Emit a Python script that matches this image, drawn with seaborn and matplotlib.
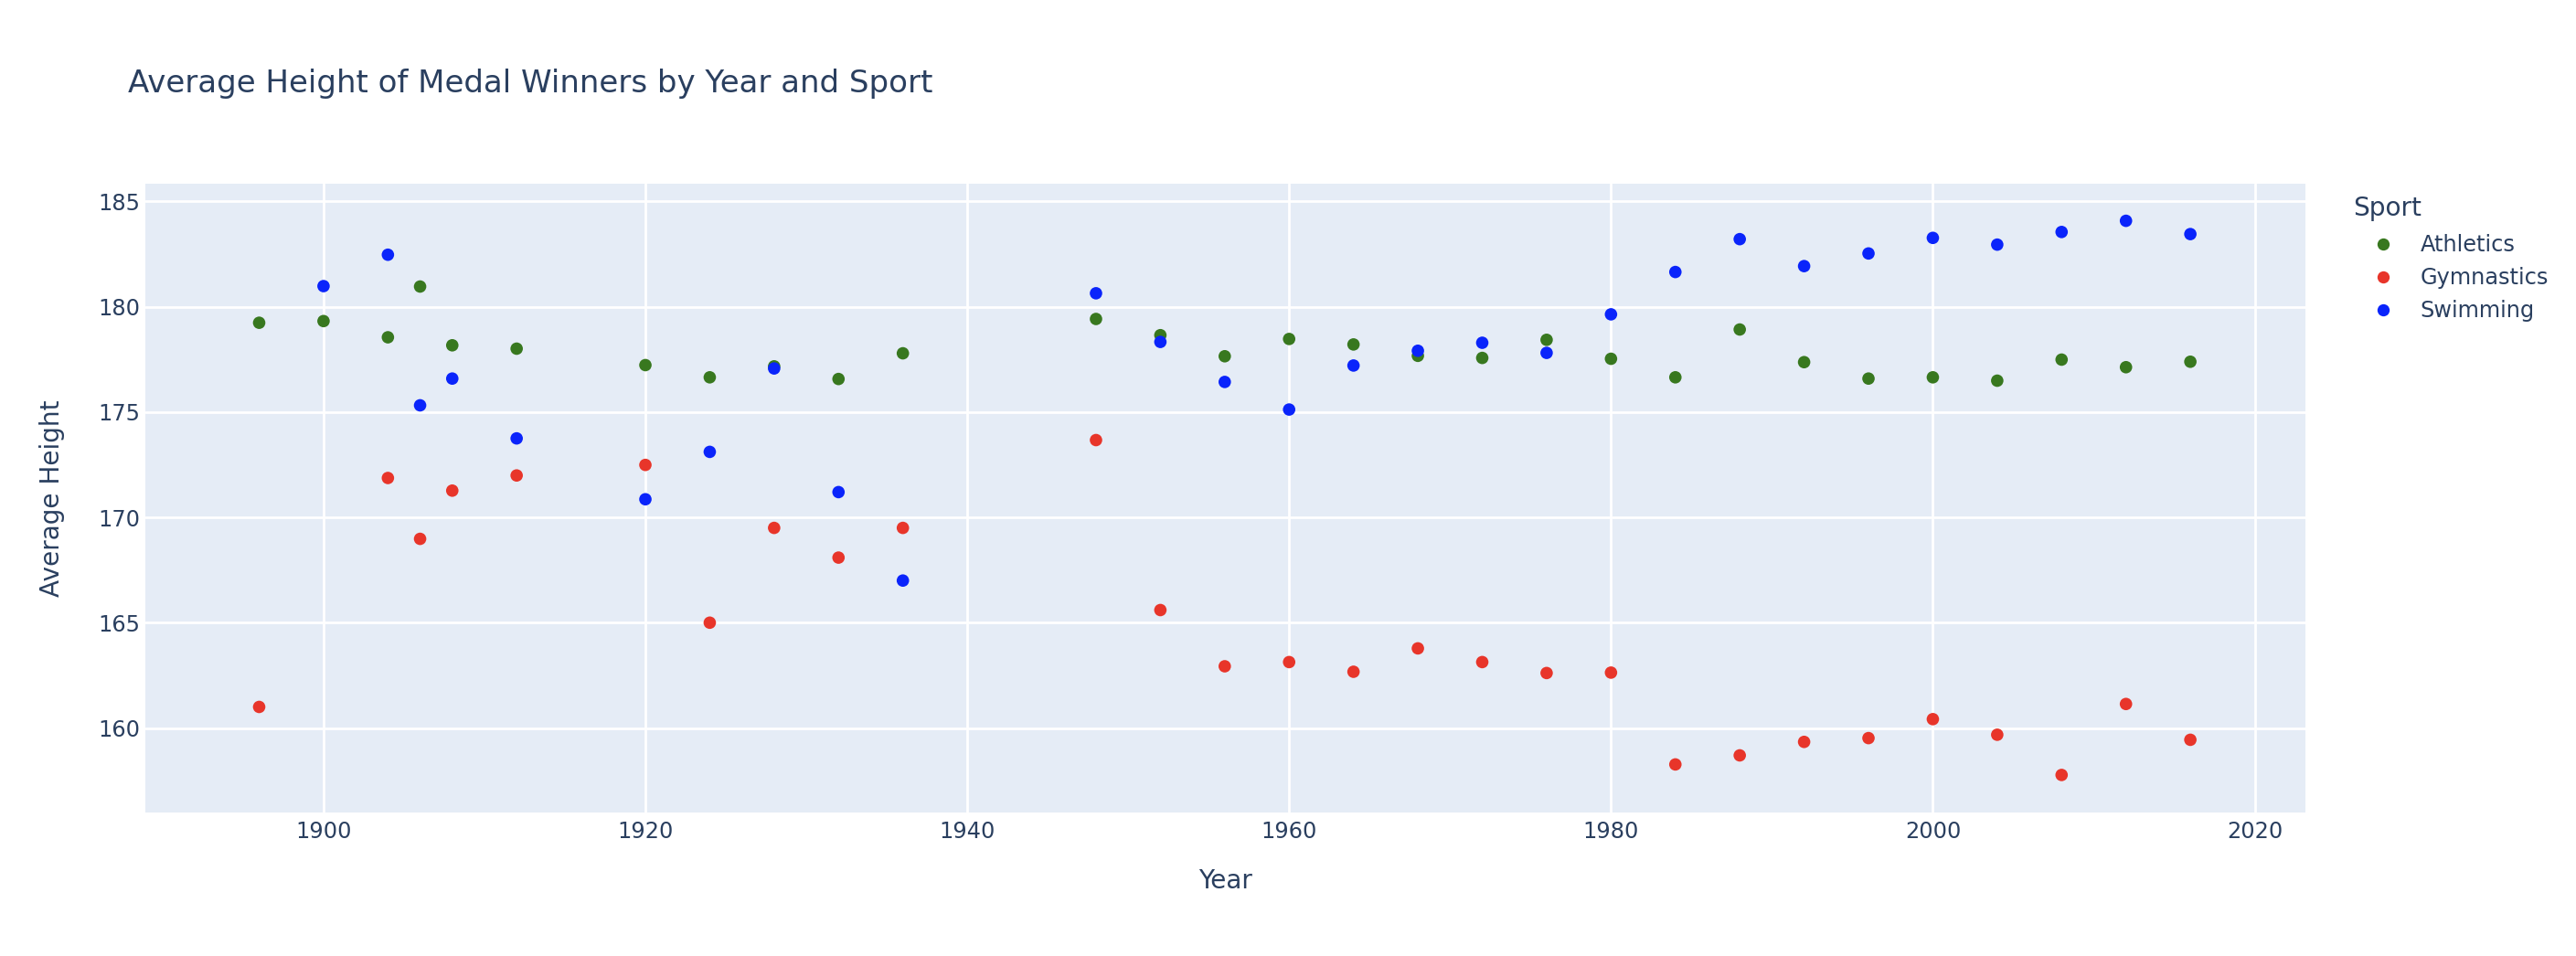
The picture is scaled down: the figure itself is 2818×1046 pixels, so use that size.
import numpy as np
import pandas as pd
import matplotlib
matplotlib.use("Agg")
import matplotlib.pyplot as plt
import seaborn as sns
from matplotlib.lines import Line2D

years = [1896, 1900, 1904, 1906, 1908, 1912, 1920, 1924, 1928, 1932, 1936,
         1948, 1952, 1956, 1960, 1964, 1968, 1972, 1976, 1980, 1984, 1988,
         1992, 1996, 2000, 2004, 2008, 2012, 2016]

athletics = [179.24, 179.32, 178.55, 180.96, 178.17, 178.01, 177.23, 176.65,
             177.17, 176.57, 177.79, 179.42, 178.65, 177.65, 178.47, 178.21,
             177.67, 177.57, 178.43, 177.53, 176.65, 178.92, 177.37, 176.59,
             176.65, 176.49, 177.49, 177.13, 177.39]

gym_years = [1896, 1904, 1906, 1908, 1912, 1920, 1924, 1928, 1932, 1936,
             1948, 1952, 1956, 1960, 1964, 1968, 1972, 1976, 1980, 1984,
             1988, 1992, 1996, 2000, 2004, 2008, 2012, 2016]
gymnastics = [161.0, 171.87, 168.98, 171.27, 171.99, 172.49, 165.0, 169.5,
              168.09, 169.5, 173.67, 165.6, 162.93, 163.13, 162.67, 163.78,
              163.13, 162.61, 162.63, 158.27, 158.7, 159.34, 159.52, 160.42,
              159.68, 157.77, 161.14, 159.44]

swim_years = [1900, 1904, 1906, 1908, 1912, 1920, 1924, 1928, 1932, 1936,
              1948, 1952, 1956, 1960, 1964, 1968, 1972, 1976, 1980, 1984,
              1988, 1992, 1996, 2000, 2004, 2008, 2012, 2016]
swimming = [180.98, 182.47, 175.32, 176.59, 173.75, 170.86, 173.11, 177.07,
            171.2, 167.0, 180.64, 178.33, 176.43, 175.12, 177.21, 177.91,
            178.29, 177.81, 179.64, 181.65, 183.21, 181.93, 182.53, 183.27,
            182.95, 183.55, 184.08, 183.45]

sports = ["Athletics", "Gymnastics", "Swimming"]
colors = ["#38781f", "#e8352a", "#0a24fb"]

df = pd.concat([
    pd.DataFrame({"Year": years, "Average Height": athletics, "Sport": "Athletics"}),
    pd.DataFrame({"Year": gym_years, "Average Height": gymnastics, "Sport": "Gymnastics"}),
    pd.DataFrame({"Year": swim_years, "Average Height": swimming, "Sport": "Swimming"}),
], ignore_index=True)

sns.set_theme(style="darkgrid")
plt.rcParams["font.family"] = ["DejaVu Sans"]
text_color = "#2a3f5f"

W, H = 2818, 1046
dpi = 200
fig = plt.figure(figsize=(W / dpi, H / dpi), dpi=dpi, facecolor="white")
left, right = 158.5 / W, 2522 / W
top, bottom = 1 - 200.7 / H, 1 - 889.4 / H
ax = fig.add_axes([left, bottom, right - left, top - bottom])
ax.set_facecolor("#e5ecf6")

sns.scatterplot(data=df, x="Year", y="Average Height", hue="Sport",
                hue_order=sports, palette=colors, s=24, linewidth=0,
                ax=ax, legend=False, zorder=3)

ax.set_xlim(1888.9, 2023.15)
ax.set_ylim(155.97, 185.855)
ax.set_xticks([1900, 1920, 1940, 1960, 1980, 2000, 2020])
ax.set_yticks([160, 165, 170, 175, 180, 185])
ax.grid(True, color="white", linewidth=1.0)
ax.set_axisbelow(True)
for s in ax.spines.values():
    s.set_visible(False)
ax.tick_params(axis="both", length=0, labelsize=8.64, colors=text_color, pad=3)
ax.tick_params(axis="y", pad=2)
ax.set_xlabel("Year", fontsize=10.08, color=text_color, labelpad=10)
ax.set_ylabel("Average Height", fontsize=10.08, color=text_color, labelpad=13)

fig.text(140 / W, 1 - 101 / H, "Average Height of Medal Winners by Year and Sport",
         fontsize=12.24, color=text_color, ha="left", va="baseline")

# legend
fig.text(2574 / W, 1 - 236 / H, "Sport", fontsize=10.08, color=text_color,
         ha="left", va="baseline")
handles = [Line2D([0], [0], marker="o", linestyle="", markersize=4.8,
                  markerfacecolor=c, markeredgewidth=0) for c in colors]
leg = fig.legend(handles, sports, loc="upper left",
                 bbox_to_anchor=(2595 / W, 1 - 256 / H), frameon=False,
                 fontsize=8.64, handlelength=1.0, handletextpad=1.2,
                 labelspacing=0.5, borderpad=0, borderaxespad=0)
for t in leg.get_texts():
    t.set_color(text_color)

fig.savefig("out.png", dpi=dpi, facecolor="white")
